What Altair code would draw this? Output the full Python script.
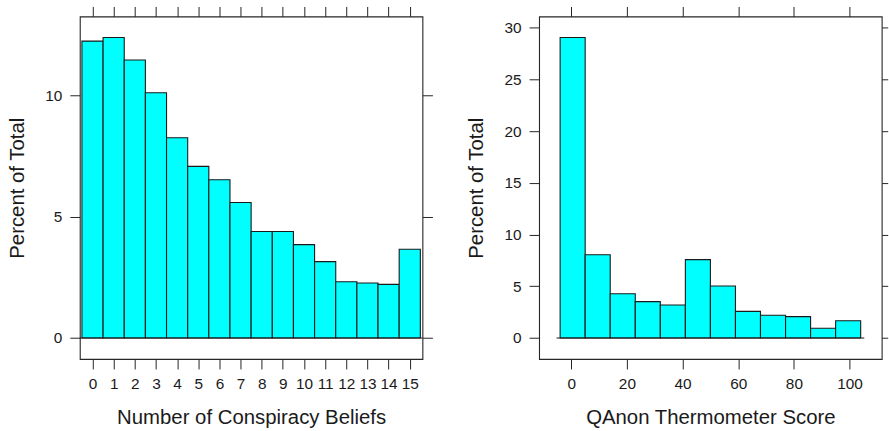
import altair as alt
import pandas as pd

# Number of conspiracy beliefs held (0-15) and the share of respondents at each count
belief_counts = list(range(16))
belief_pct = [12.25, 12.40, 11.47, 10.12, 8.26, 7.08, 6.53, 5.59,
              4.39, 4.39, 3.85, 3.15, 2.32, 2.27, 2.21, 3.66]

# QAnon feeling thermometer histogram: bin edges and percent of respondents per bin
qanon_edges = [-4, 5, 14, 23, 32, 41, 50, 59, 68, 77, 86, 95, 104]
qanon_pct = [29.06, 8.05, 4.28, 3.51, 3.19, 7.57, 5.03, 2.57, 2.19, 2.06, 0.93, 1.67]

belief_ticks = list(range(16))
qanon_ticks = [0, 20, 40, 60, 80, 100]
belief_yticks = [0, 5, 10]
qanon_yticks = [0, 5, 10, 15, 20, 25, 30]

belief_xlim = [-0.6, 15.6]
qanon_xlim = [-11.56, 111.56]

FONT = "Liberation Sans"
INK = "#262626"
W, H = 343.4, 343.3

belief_df = pd.DataFrame({
    "lo": [b - 0.5 for b in belief_counts],
    "hi": [b + 0.5 for b in belief_counts],
    "pct": belief_pct,
})
qanon_df = pd.DataFrame({
    "lo": qanon_edges[:-1],
    "hi": qanon_edges[1:],
    "pct": qanon_pct,
})


def panel(df, xlim, xticks, yticks, xtitle, right_tick=10):
    ymax = max(df["pct"])
    ylim = [-0.07 * ymax, 1.07 * ymax]
    xs = alt.Scale(domain=xlim, nice=False, zero=False)
    ys = alt.Scale(domain=ylim, nice=False, zero=False)

    common = dict(
        tickColor=INK, tickWidth=1, domain=False, grid=False,
        labelFont=FONT, labelFontSize=15.4, labelColor="#1a1a1a",
        titleFont=FONT, titleFontSize=20.4, titleFontWeight="normal",
        titleColor="#1a1a1a", labelOverlap=False, labelFlush=False,
    )

    bars = alt.Chart(df).mark_rect(
        fill="#00FFFF", stroke="#1a1a1a", strokeWidth=1.1
    ).encode(
        x=alt.X("lo:Q", scale=xs, axis=alt.Axis(
            orient="bottom", values=xticks, title=xtitle, labelPadding=8,
            tickSize=10, titleBaseline="alphabetic", titleX=W / 2, titleY=65,
            **common)),
        x2="hi:Q",
        y=alt.Y("pct:Q", scale=ys, axis=alt.Axis(
            orient="left", values=yticks, title="Percent of Total",
            labelPadding=8, tickSize=10, titleBaseline="alphabetic",
            titleX=-56.5, titleY=H / 2, **common)),
        y2=alt.datum(0),
    )

    # baseline along zero, slightly wider than the bars
    span = df["hi"].max() - df["lo"].min()
    ext = 0.012 * span
    zero = alt.Chart(df.head(1)).mark_rule(
        color="#1a1a1a", strokeWidth=1.1, clip=True
    ).encode(
        x=alt.X(datum=float(df["lo"].min() - ext), scale=xs, axis=alt.Axis(
            orient="top", values=xticks, labels=False, title=None,
            tickSize=10, **common)),
        x2=alt.datum(float(df["hi"].max() + ext)),
        y=alt.Y(datum=0, scale=ys, axis=alt.Axis(
            orient="right", values=yticks, labels=False, title=None,
            tickSize=right_tick, **common)),
    )

    return alt.layer(bars, zero).resolve_axis(
        x="independent", y="independent"
    ).properties(width=W, height=H)


left = panel(belief_df, belief_xlim, belief_ticks, belief_yticks,
             "Number of Conspiracy Beliefs")
right = panel(qanon_df, qanon_xlim, qanon_ticks, qanon_yticks,
              "QAnon Thermometer Score", right_tick=6)

chart = alt.hconcat(left, right, spacing=116.3, bounds="flush").properties(
    padding={"left": 6, "top": 4, "right": 0, "bottom": 0},
    background="white",
).configure_view(stroke=INK, strokeWidth=1.1, fill=None)

chart.save("out.html", embed_options={"renderer": "svg", "actions": False})
